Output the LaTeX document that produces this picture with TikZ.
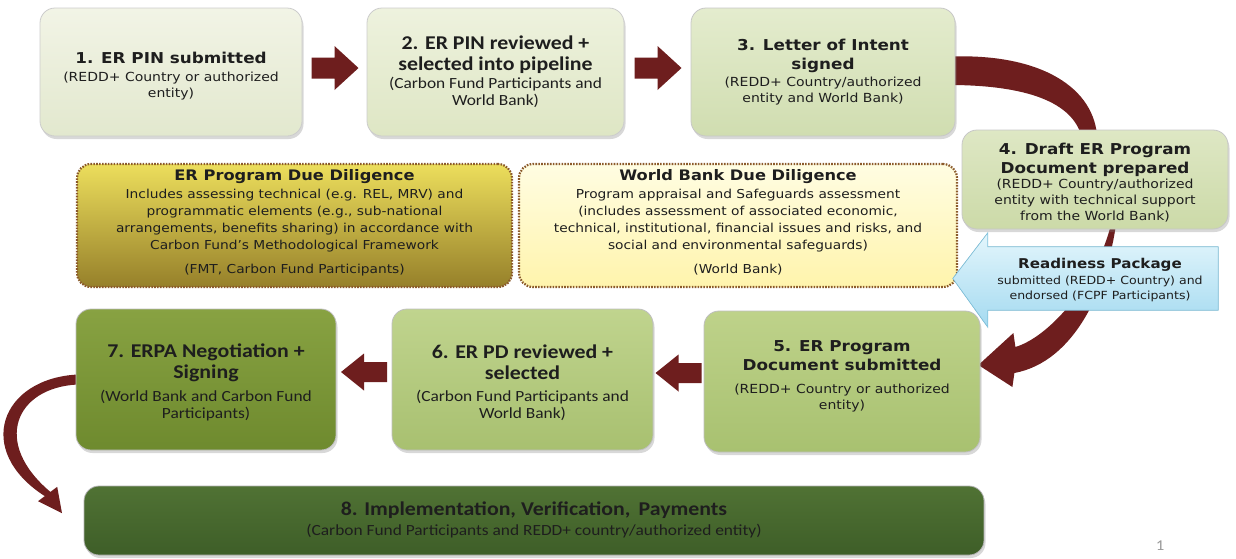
\documentclass[tikz,border=0pt]{standalone}
\usepackage{fontspec}
\usetikzlibrary{calc,shadows}
\newfontfamily\vf[FakeStretch=1.12]{DejaVu Sans}
\newfontfamily\cf[FakeStretch=1.12]{Carlito}
\definecolor{arr}{HTML}{6E1E1E}
\definecolor{txt}{HTML}{1E1E1E}
\definecolor{dotc}{HTML}{8B5A2B}
\pgfdeclarelayer{bg}
\pgfsetlayers{bg,main}
\begin{document}
\begin{tikzpicture}[x=1pt,y=-1pt,
  boxbase/.style={rounded corners=15pt, inner sep=0pt, line width=0.8pt,
    drop shadow={shadow xshift=1.5pt,shadow yshift=-3pt,opacity=0.3}},
  ddbox/.style={rounded corners=14pt, inner sep=0pt, line width=2.2pt,
    draw=dotc, dash pattern=on 1.6pt off 1.3pt},
  vtitle/.style={align=center, inner sep=0pt, text=txt, font=\vf\bfseries\fontsize{15}{19}\selectfont},
  vsub/.style={align=center, inner sep=0pt, text=txt, font=\vf\fontsize{12.5}{16}\selectfont},
  ctitle/.style={align=center, inner sep=0pt, text=txt, font=\cf\bfseries\fontsize{19.5}{21}\selectfont},
  csub/.style={align=center, inner sep=0pt, text=txt, font=\cf\fontsize{15.5}{17}\selectfont},
  ddtitle/.style={align=center, inner sep=0pt, text=txt, font=\vf\bfseries\fontsize{14.5}{17}\selectfont},
  ddsub/.style={align=center, inner sep=0pt, text=txt, font=\vf\fontsize{12.3}{17}\selectfont},
  rptitle/.style={align=center, inner sep=0pt, text=txt, font=\vf\bfseries\fontsize{13.5}{17}\selectfont},
  rpsub/.style={align=center, inner sep=0pt, text=txt, font=\vf\fontsize{11.2}{15}\selectfont},
  blk/.style={fill=arr},
  pg/.style={inner sep=0pt, text=black!40, font=\cf\fontsize{15}{17}\selectfont}
]
\useasboundingbox (0,0) rectangle (1236,558);
\begin{pgfonlayer}{bg}
\fill[white] (0,0) rectangle (1236,558);
\end{pgfonlayer}

% boxes
\node[boxbase, draw=black!20, top color={rgb,255:red,242;green,244;blue,230}, bottom color={rgb,255:red,226;green,232;blue,206},
  minimum width=262pt, minimum height=128pt] (b1) at (171,72) {};
\node[boxbase, draw=black!20, top color={rgb,255:red,238;green,242;blue,222}, bottom color={rgb,255:red,222;green,230;blue,196},
  minimum width=257pt, minimum height=128pt] (b2) at (495.5,72) {};
\node[boxbase, draw=black!22, top color={rgb,255:red,228;green,236;blue,206}, bottom color={rgb,255:red,208;green,221;blue,176},
  minimum width=264pt, minimum height=128pt] (b3) at (823,72) {};
\node[boxbase, draw=black!22, top color={rgb,255:red,222;green,231;blue,196}, bottom color={rgb,255:red,204;green,218;blue,168},
  minimum width=266pt, minimum height=99pt] (b4) at (1095,179.5) {};

\node[ddbox, top color={rgb,255:red,236;green,222;blue,92}, bottom color={rgb,255:red,150;green,128;blue,42},
  minimum width=435pt, minimum height=123pt] (dd1) at (294.5,225.5) {};
\node[ddbox, top color={rgb,255:red,255;green,253;blue,226}, bottom color={rgb,255:red,255;green,244;blue,172},
  minimum width=438pt, minimum height=123pt] (dd2) at (738,225.5) {};

\node[boxbase, draw=black!25, top color={rgb,255:red,136;green,162;blue,66}, bottom color={rgb,255:red,110;green,138;blue,46},
  minimum width=260pt, minimum height=141pt] (b7) at (206,379.5) {};
\node[boxbase, draw=black!25, top color={rgb,255:red,192;green,212;blue,142}, bottom color={rgb,255:red,168;green,192;blue,112},
  minimum width=261pt, minimum height=141pt] (b6) at (522.5,379.5) {};
\node[boxbase, draw=black!25, top color={rgb,255:red,190;green,210;blue,138}, bottom color={rgb,255:red,168;green,193;blue,112},
  minimum width=276pt, minimum height=141pt] (b5) at (842,381.5) {};
\node[boxbase, draw=black!30, top color={rgb,255:red,80;green,114;blue,52}, bottom color={rgb,255:red,62;green,94;blue,40},
  minimum width=900pt, minimum height=69pt] (b8) at (534,520.5) {};

% readiness package (callout arrow)
\node[inner sep=0pt, minimum width=230pt, minimum height=63pt] (rp) at (1103,278.5) {};
\filldraw[draw={rgb,255:red,130;green,196;blue,222}, line width=0.7pt,
  top color={rgb,255:red,228;green,246;blue,252}, bottom color={rgb,255:red,164;green,218;blue,240}]
  (rp.west) ++(-35,0) -- ($(rp.north west)+(0,-14)$) -- (rp.north west) -- (rp.north east)
  -- (rp.south east) -- (rp.south west) -- ($(rp.south west)+(0,17)$) -- cycle;

% texts
\node[vtitle] (t1) at (171,58) {1. ER PIN submitted};
\node[vsub] (s1) at (171,86) {(REDD+ Country or authorized\\entity)};
\node[ctitle] (t2) at (495.5,55) {2. ER PIN reviewed +\\selected into pipeline};
\node[csub] (s2) at (495.5,92) {(Carbon Fund Participants and\\World Bank)};
\node[vtitle] (t3) at (823,56) {3. Letter of Intent\\signed};
\node[vsub] (s3) at (823,91) {(REDD+ Country/authorized\\entity and World Bank)};
\node[vtitle] (t4) at (1095,159.5) {4. Draft ER Program\\Document prepared};
\node[vsub] (s4) at (1095,201) {(REDD+ Country/authorized\\entity with technical support\\from the World Bank)};

\node[ddtitle] (d1t) at (294.5,177) {ER Program Due Diligence};
\node[ddsub] (d1s) at (294.5,220.5) {Includes assessing technical (e.g. REL, MRV) and\\programmatic elements (e.g., sub-national\\arrangements, benefits sharing) in accordance with\\Carbon Fund’s Methodological Framework};
\node[ddsub] (d1f) at (294.5,270) {(FMT, Carbon Fund Participants)};
\node[ddtitle] (d2t) at (738,177) {World Bank Due Diligence};
\node[ddsub] (d2s) at (738,220.5) {Program appraisal and Safeguards assessment\\(includes assessment of associated economic,\\technical, institutional, financial issues and risks, and\\social and environmental safeguards)};
\node[ddsub] (d2f) at (738,270) {(World Bank)};

\node[rptitle] (rpt) at (1100,265) {Readiness Package};
\node[rpsub] (rps) at (1100,288.5) {submitted (REDD+ Country) and\\endorsed (FCPF Participants)};

\node[ctitle] (t7) at (206,362.5) {7. ERPA Negotiation +\\Signing};
\node[csub] (s7) at (206,405.5) {(World Bank and Carbon Fund\\Participants)};
\node[ctitle] (t6) at (522.5,362.5) {6. ER PD reviewed +\\selected};
\node[csub] (s6) at (522.5,405.5) {(Carbon Fund Participants and\\World Bank)};
\node[vtitle] (t5) at (842,356) {5. ER Program\\Document submitted};
\node[vsub] (s5) at (842,398) {(REDD+ Country or authorized\\entity)};
\node[ctitle] (t8) at (534,510) {8. Implementation, Verification,\, Payments};
\node[csub, font=\cf\fontsize{15.5}{17}\selectfont] (s8) at (534,531) {(Carbon Fund Participants and REDD+ country/authorized entity)};

\node[pg] (pgn) at (1160,546) {1};

% connectors
\begin{pgfonlayer}{bg}
% 3 -> 4 curved band
\fill[blk] ($(b3.east)+(-15,-15)$) .. controls ($(b3.east)+(80,-21)$) and ($(b4.north)+(-3,-45)$) .. ($(b4.north)+(2,5)$)
  -- ($(b4.north)+(-14,5)$) .. controls ($(b4.north)+(-25,-30)$) and ($(b3.east)+(65,12)$) .. ($(b3.east)+(-15,13)$) -- cycle;
% 4 -> 5 curved arrow
\fill[blk] ($(b4.south)+(16,-5)$) .. controls ($(b4.south)+(2,52)$) and ($(b5.east)+(70,-45)$) .. ($(b5.east)+(35,-34.5)$)
  -- ($(b5.east)+(33,-48.5)$) -- ($(b5.east)+(-2,-16.5)$) -- ($(b5.east)+(32,5.5)$) -- ($(b5.east)+(34,-8.5)$)
  .. controls ($(b5.east)+(95,-20)$) and ($(b4.south)+(12,58)$) .. ($(b4.south)+(21,-5)$) -- cycle;
% 7 -> 8 curved arrow
\fill[blk] ($(b7.west)+(2,-5)$) .. controls ($(b7.west)+(-75,-1)$) and ($(b8.west)+(-110,-70)$) .. ($(b8.west)+(-38.8,-24.4)$)
  -- ($(b8.west)+(-45.6,-19.3)$) -- ($(b8.west)+(-21.6,-7.3)$) -- ($(b8.west)+(-26.4,-33.7)$) -- ($(b8.west)+(-33.2,-28.6)$)
  .. controls ($(b8.west)+(-92,-78)$) and ($(b7.west)+(-60,8)$) .. ($(b7.west)+(2,5)$) -- cycle;
\end{pgfonlayer}

% straight block arrows
\path (b1.east) -- (b2.west) coordinate[pos=.5] (m12);
\path (b2.east) -- (b3.west) coordinate[pos=.5] (m23);
\path (b6.west) -- (b7.east) coordinate[pos=.5] (m67);
\path (b5.west) -- (b6.east) coordinate[pos=.5] (m56);
\foreach \m in {m12,m23} {
  \fill[blk] ($(\m)+(-23,-14.5)$) -- ($(\m)+(0,-14.5)$) -- ($(\m)+(0,-26)$) -- ($(\m)+(24,-4)$)
    -- ($(\m)+(0,18)$) -- ($(\m)+(0,6.5)$) -- ($(\m)+(-23,6.5)$) -- cycle;
}
\foreach \m in {m67,m56} {
  \fill[blk] ($(\m)+(23,-17.5)$) -- ($(\m)+(0,-17.5)$) -- ($(\m)+(0,-26)$) -- ($(\m)+(-23,-7.5)$)
    -- ($(\m)+(0,11)$) -- ($(\m)+(0,2.5)$) -- ($(\m)+(23,2.5)$) -- cycle;
}
\end{tikzpicture}
\end{document}
